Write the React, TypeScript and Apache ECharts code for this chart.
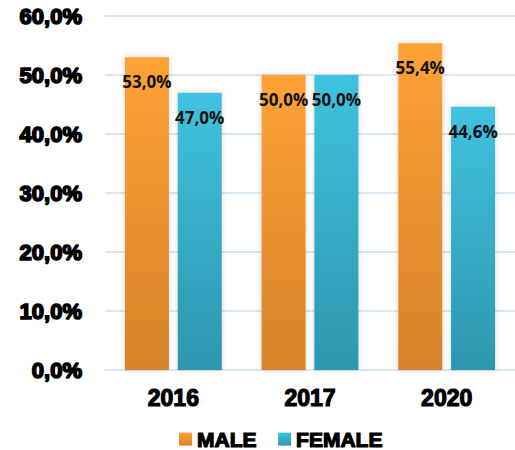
import React, { useEffect, useRef } from "react";
import * as echarts from "echarts";

const categories = ["2016", "2017", "2020"];
const maleValues = [53.0, 50.0, 55.4];
const femaleValues = [47.0, 50.0, 44.6];
const seriesNames = ["MALE", "FEMALE"];
const yTicks = { min: 0, max: 60, interval: 10 };

const fmt = (v: number) => v.toFixed(1).replace(".", ",") + "%";

const grad = (top: string, bottom: string) =>
  new echarts.graphic.LinearGradient(0, 0, 0, 1, [
    { offset: 0, color: top },
    { offset: 1, color: bottom },
  ]);

export default function App() {
  const ref = useRef<HTMLDivElement>(null);
  useEffect(() => {
    if (!ref.current) return;
    const chart = echarts.init(ref.current, null, { renderer: "svg" });
    const barLabel = {
      show: true,
      position: "insideTop",
      distance: 16,
      formatter: (p: any) => fmt(p.value),
      color: "#111",
      fontFamily: "Open Sans",
      fontWeight: "bold",
      fontSize: 17,
    };
    const shadow = {
      shadowBlur: 5,
      shadowColor: "rgba(0,0,0,0.18)",
      shadowOffsetX: 0,
      shadowOffsetY: 0,
    };
    chart.setOption({
      animation: false,
      backgroundColor: "#fff",
      grid: { left: 105, right: 0, top: 16, bottom: 80, containLabel: false },
      legend: {
        left: 174,
        top: 423,
        itemWidth: 13,
        itemHeight: 13,
        itemGap: 21,
        icon: "rect",
        textStyle: {
          fontFamily: "Liberation Sans",
          fontWeight: "bold",
          fontSize: 21,
          lineHeight: 22,
          color: "#000",
          textBorderColor: "#000",
          textBorderWidth: 1.2,
        },
        data: seriesNames,
      },
      xAxis: {
        type: "category",
        data: categories,
        axisTick: { show: false },
        axisLine: { show: true, lineStyle: { color: "#dce6f2", width: 2 } },
        axisLabel: {
          margin: 16,
          fontFamily: "Liberation Sans",
          fontWeight: "bold",
          fontSize: 23,
          color: "#000",
          textBorderColor: "#000",
          textBorderWidth: 1.2,
        },
      },
      yAxis: {
        type: "value",
        min: yTicks.min,
        max: yTicks.max,
        interval: yTicks.interval,
        axisLine: { show: false },
        axisTick: { show: false },
        splitLine: { lineStyle: { color: "#dce6f2", width: 2 } },
        axisLabel: {
          margin: 23,
          formatter: (v: number) => fmt(v),
          fontFamily: "Liberation Sans",
          fontWeight: "bold",
          fontSize: 22,
          color: "#000",
          textBorderColor: "#000",
          textBorderWidth: 1.6,
        },
      },
      series: [
        {
          name: seriesNames[0],
          type: "bar",
          data: maleValues,
          barWidth: 44,
          barGap: "20%",
          itemStyle: { color: grad("#ffa236", "#d7822a"), ...shadow },
          label: barLabel,
        },
        {
          name: seriesNames[1],
          type: "bar",
          data: femaleValues,
          barWidth: 44,
          itemStyle: { color: grad("#40c2e0", "#2e96ae"), ...shadow },
          label: barLabel,
        },
      ],
    });
    return () => chart.dispose();
  }, []);
  return (
    <div
      ref={ref}
      style={{ position: "absolute", left: 0, top: 0, width: 515, height: 450 }}
    />
  );
}
